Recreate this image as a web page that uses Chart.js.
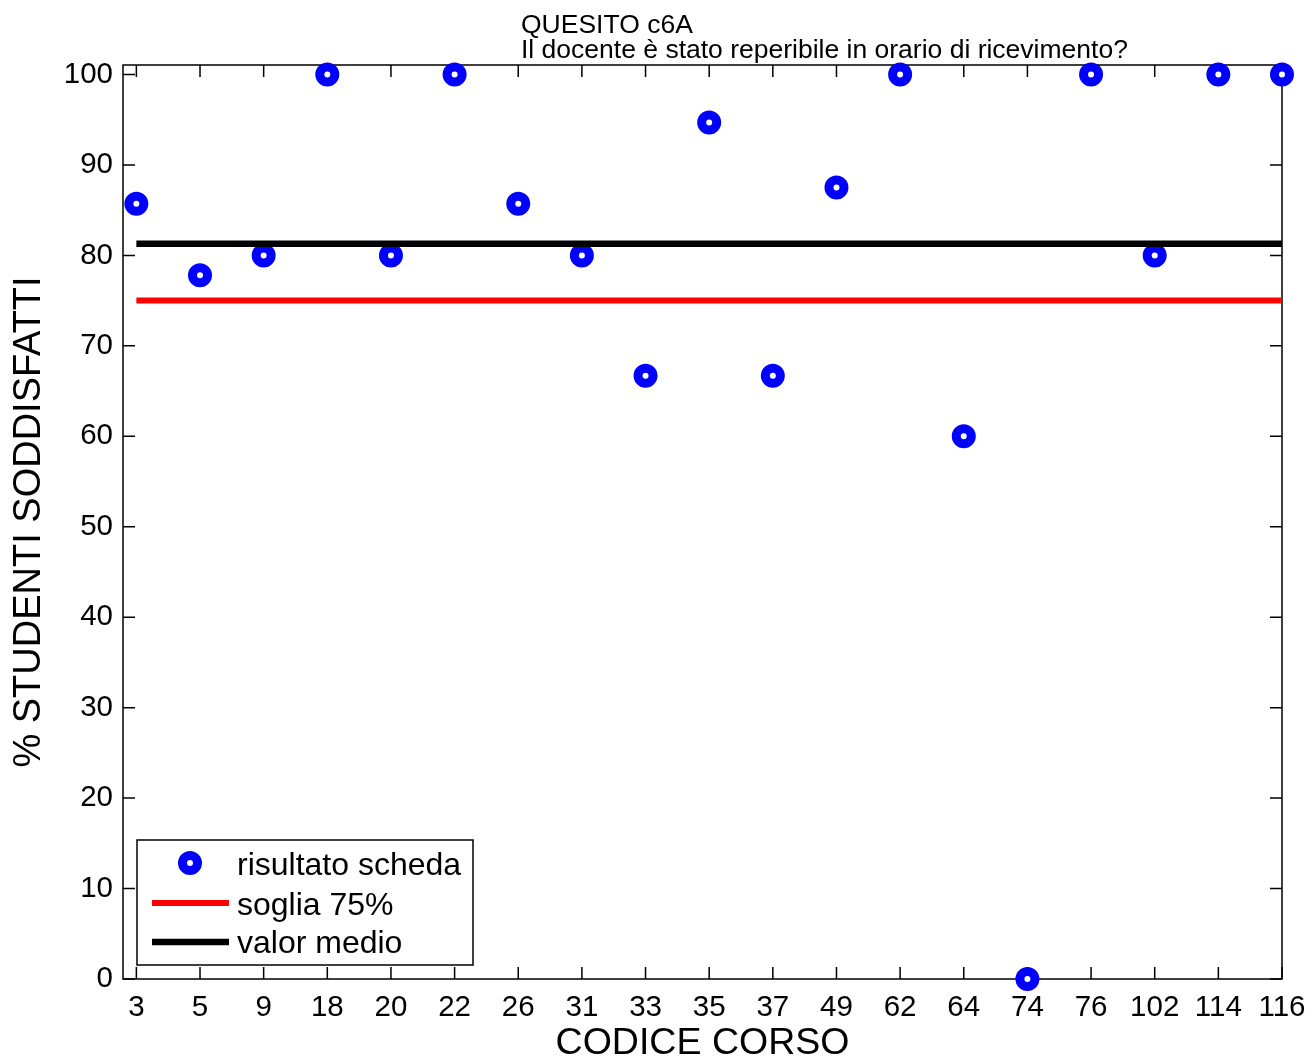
<!DOCTYPE html>
<html>
<head>
<meta charset="utf-8">
<script src="https://cdn.jsdelivr.net/npm/chart.js@4.4.0/dist/chart.umd.min.js"></script>
<style>
	body { margin: 0; background: #ffffff; }
	canvas { display: block; }
</style>
</head>
<body>
<canvas id="QuesitoChart" width="1313" height="1062"></canvas>
<script>
// data
var courseCodes = ['3', '5', '9', '18', '20', '22', '26', '31', '33', '35', '37', '49', '62', '64', '74', '76', '102', '114', '116'];
var resultValues = [85.7, 77.8, 80, 100, 80, 100, 85.7, 80, 66.7, 94.7, 66.7, 87.5, 100, 60, 0, 100, 80, 100, 100];
var thresholdValue = 75;
var meanValue = 81.3;
var yTickValues = [0, 10, 20, 30, 40, 50, 60, 70, 80, 90, 100];
var seriesNames = ['risultato scheda', 'soglia 75%', 'valor medio'];
var titleLines = ['QUESITO c6A', 'Il docente è stato reperibile in orario di ricevimento?'];

var FONT = "'Liberation Sans', Arial, Helvetica, sans-serif";

// @desc x positions are 1..n, label them with the course codes
var pointData = resultValues.map(function(v, i) {
	return { x: i + 1, y: v };
});
var hLine = function(value) {
	return [{ x: 1, y: value }, { x: courseCodes.length, y: value }];
};

// @desc matlab style box with inward ticks on all four sides
var boxPlugin = {
	id: 'boxPlugin',
	beforeDatasetsDraw: function(chart) {
		var ctx = chart.ctx, a = chart.chartArea;
		var xs = chart.scales.x, ys = chart.scales.y;
		var tl = 12;
		ctx.save();
		ctx.strokeStyle = '#000';
		ctx.lineWidth = 1.5;
		ctx.strokeRect(a.left, a.top, a.right - a.left, a.bottom - a.top);
		ctx.beginPath();
		xs.ticks.forEach(function(t) {
			var px = xs.getPixelForValue(t.value);
			ctx.moveTo(px, a.bottom); ctx.lineTo(px, a.bottom - tl);
			ctx.moveTo(px, a.top); ctx.lineTo(px, a.top + tl);
		});
		ys.ticks.forEach(function(t) {
			var py = ys.getPixelForValue(t.value);
			ctx.moveTo(a.left, py); ctx.lineTo(a.left + tl, py);
			ctx.moveTo(a.right, py); ctx.lineTo(a.right - tl, py);
		});
		ctx.stroke();
		ctx.restore();
	},
	afterDraw: function(chart) {
		var ctx = chart.ctx;
		var ds = chart.data.datasets;
		ctx.save();
		// title, left aligned lines
		ctx.fillStyle = '#000';
		ctx.font = '26.5px ' + FONT;
		ctx.textAlign = 'left';
		ctx.textBaseline = 'alphabetic';
		ctx.fillText(titleLines[0], 521, 33);
		ctx.fillText(titleLines[1], 521, 58);

		// legend box
		ctx.fillStyle = '#fff';
		ctx.fillRect(137, 840, 336, 125);
		ctx.strokeStyle = '#000';
		ctx.lineWidth = 1.5;
		ctx.strokeRect(137, 840, 336, 125);

		ctx.beginPath();
		ctx.arc(190, 863, ds[0].pointRadius, 0, Math.PI * 2);
		ctx.fillStyle = ds[0].backgroundColor;
		ctx.fill();
		ctx.lineWidth = ds[0].pointBorderWidth;
		ctx.strokeStyle = ds[0].borderColor;
		ctx.stroke();

		[[ds[1], 903], [ds[2], 942]].forEach(function(item) {
			ctx.beginPath();
			ctx.moveTo(152, item[1]);
			ctx.lineTo(229, item[1]);
			ctx.lineWidth = item[0].borderWidth;
			ctx.strokeStyle = item[0].borderColor;
			ctx.stroke();
		});

		ctx.fillStyle = '#000';
		ctx.font = '32px ' + FONT;
		ctx.fillText(ds[0].label, 237, 875);
		ctx.fillText(ds[1].label, 237, 915);
		ctx.fillText(ds[2].label, 237, 953);
		ctx.restore();
	}
};

var chart = new Chart(document.getElementById('QuesitoChart'), {
	type: 'scatter',
	data: {
		datasets: [
			{
				label: seriesNames[0],
				data: pointData,
				showLine: false,
				pointRadius: 7.5,
				pointHoverRadius: 7.5,
				pointBorderWidth: 9,
				borderColor: '#0000ff',
				backgroundColor: '#ffffff',
				clip: false,
				order: 2
			},
			{
				label: seriesNames[1],
				data: hLine(thresholdValue),
				showLine: true,
				pointRadius: 0,
				borderColor: '#ff0000',
				borderWidth: 6,
				borderCapStyle: 'butt',
				order: 1
			},
			{
				label: seriesNames[2],
				data: hLine(meanValue),
				showLine: true,
				pointRadius: 0,
				borderColor: '#000000',
				borderWidth: 6.5,
				borderCapStyle: 'butt',
				order: 0
			}
		]
	},
	options: {
		responsive: false,
		animation: false,
		devicePixelRatio: 1,
		layout: { padding: { top: 65, right: 31, left: 0, bottom: 0 } },
		plugins: {
			legend: { display: false },
			tooltip: { enabled: false },
			title: { display: false }
		},
		scales: {
			x: {
				type: 'linear',
				min: 0.79,
				max: courseCodes.length,
				grid: { display: false, drawTicks: false },
				border: { display: false },
				afterBuildTicks: function(scale) {
					scale.ticks = courseCodes.map(function(c, i) { return { value: i + 1 }; });
				},
				afterFit: function(scale) {
					scale.height = 83;
					// let the layout padding decide the plot edges, not the "116" label
					scale.paddingLeft = 0;
					scale.paddingRight = 0;
				},
				ticks: {
					autoSkip: false,
					maxRotation: 0,
					padding: 11,
					color: '#000',
					font: { family: FONT, size: 29.5 },
					callback: function(v) { return courseCodes[Math.round(v) - 1]; }
				},
				title: {
					display: true,
					text: 'CODICE CORSO',
					color: '#000',
					font: { family: FONT, size: 37.5 },
					padding: { top: 0, bottom: -4 }
				}
			},
			y: {
				min: 0,
				max: 101.05,
				grid: { display: false, drawTicks: false },
				border: { display: false },
				afterBuildTicks: function(scale) {
					scale.ticks = yTickValues.map(function(v) { return { value: v }; });
				},
				afterFit: function(scale) {
					scale.width = 123;
					scale.paddingTop = 0;
					scale.paddingBottom = 0;
				},
				ticks: {
					padding: 10,
					color: '#000',
					font: { family: FONT, size: 29.5 }
				},
				title: {
					display: true,
					text: '% STUDENTI SODDISFATTI',
					color: '#000',
					font: { family: FONT, size: 38 },
					padding: { top: 7, bottom: 0 }
				}
			}
		}
	},
	plugins: [boxPlugin]
});
</script>
</body>
</html>
